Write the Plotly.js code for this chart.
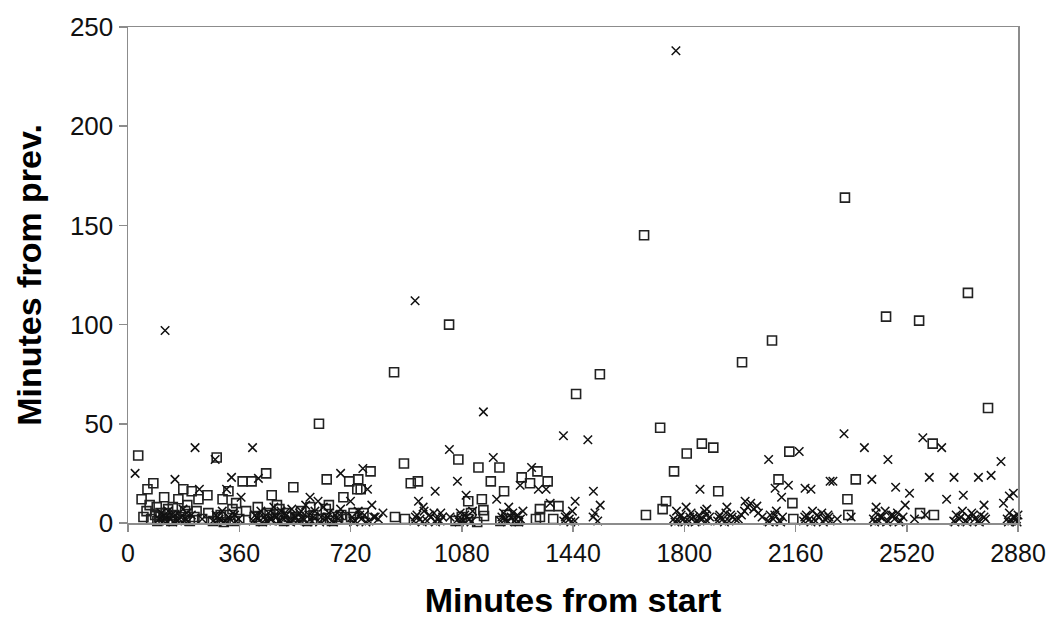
<!DOCTYPE html>
<html>
<head>
<meta charset="utf-8">
<script src="https://cdn.plot.ly/plotly-3.0.1.min.js"></script>
<style>html,body{margin:0;padding:0;background:#fff;}#chart{width:1051px;height:628px;}</style>
</head>
<body>
<div id="chart"></div>
<script>
// Series 1: square markers (minutes from start, minutes from previous)
var sqX = [33,82,63,44,287,618,371,400,447,535,643,716,745,179,206,257,306,325,350,117,163,228,465,697,742,93,88,382,
  785,893,915,938,861,1039,1069,1134,1202,1174,1145,1217,1101,1150,1152,1325,1274,1301,1358,1333,1364,1393,1333,1376,864,896,762,753,
  1450,1527,1670,1722,1808,1857,1894,1767,1910,1741,1730,1676,2140,2105,2150,2153,1987,2084,2320,2453,2560,2718,2783,2604,2355,2328,2331,2563,2608,
  50,60,75,95,105,115,130,140,150,165,185,200,215,240,260,275,290,310,330,345,360,410,430,450,470,490,505,520,545,560,580,600,625,640,660,680,705,730,
  1060,1080,1100,1110,1205,1225,1240,1260,1130,1320,
  70,100,123,145,172,192,222,300,338,420,458,482,512,552,590,612,650,690,722];
var sqY = [34,20,17,12,33,50,21,21,25,18,22,21,22,17,16,14,12,16,10,13,12,12,14,13,17,8,4,6,
  26,30,20,21,76,100,32,28,28,21,12,16,11,6.5,3.5,26,23,20,21,7,8.5,8.5,3,2,3,2,5,17,
  65,75,145,48,35,40,38,26,16,11,7,4,36,22,10,2,81,92,164,104,102,116,58,40,22,12,4,5,4,
  3,6,2,1,5,2,7,1,4,2,6,1,3,2,5,1,3,0.5,4,1,2,3,1,5,2,7,1,3,2,6,1,4,2,7,1,3,2,5,
  1,3,2,5,1,4,2,1,0.5,2,
  9,3,5,8,3,9,6,4,7,8,4,9,5,3,8,2,9,4,3];

// Series 2: x markers
var crX = [23,120,282,217,403,152,335,422,688,231,319,366,589,
  929,1150,1409,1488,1040,1182,760,775,994,1066,1094,1193,1306,1269,1328,1353,1366,1447,1506,940,955,789,1042,720,
  1773,1528,1511,2073,2172,2094,2137,2115,2191,2210,2272,1873,1938,1997,2035,1851,
  2317,2383,2459,2572,2633,2825,2281,2407,2593,2673,2752,2793,2484,2529,2649,2703,2852,2865,2421,2515,2770,2833,
  100,108,115,122,130,138,145,152,160,170,178,185,195,205,
  240,275,285,295,305,315,325,340,350,358,
  405,412,420,430,440,448,455,465,472,480,488,495,505,512,520,530,540,548,555,565,575,585,595,605,615,625,632,640,650,660,670,680,688,
  725,735,745,755,765,780,795,810,825,
  925,935,945,958,968,980,990,1000,1010,1018,
  1068,1075,1085,1095,1105,1115,
  1206,1215,1222,1232,1240,1250,1260,1270,1278,
  1410,1418,1428,1438,1446,1505,1520,
  1766,1775,1782,1790,1798,1806,1815,1822,1830,1840,1848,1858,1866,1875,1882,
  1908,1915,1925,1935,1945,1955,1965,
  1975,1985,1995,2005,2015,2025,2040,2052,
  2070,2078,2088,2098,2108,2118,
  2186,2195,2205,2215,2225,2235,2245,2255,2265,2272,2295,2340,
  2412,2420,2430,2440,2450,2460,2470,2480,2490,2500,2508,2545,2580,
  2672,2680,2690,2700,2710,2720,2730,2740,2750,2760,2775,
  2845,2852,2860,2868,2875,2880,
  112,126,142,166,190,290,310,330,345,
  416,436,460,476,492,508,526,544,560,580,600,620,645,665,684,
  730,750,770,800,930,952,975,995,1012,1072,1090,1110,1210,1228,1245,1265,
  1415,1433,1770,1786,1802,1818,1835,1852,1870,1912,1930,1950,2075,2093,2112,
  2190,2210,2230,2250,2268,2416,2435,2455,2475,2495,2676,2695,2715,2735,2755,2770,2849,2864,2877];
var crY = [25,97,32,38,38,22,23,22.5,25,17,17,13,13,
  112,56,44,42,37,33,27.5,17,16,21,14,12,28,19,17,17,10,11,16,11,8,9,3,11,
  238,9,5,32,36,17.5,19,13,17.5,17,21,7,8,11,8.5,17,
  45,38,32,43,38,31,21,22,23,23,23,24,18,15,12,14,13.6,15,8,9,9,10,
  2,5,1,3,6,2,0.5,4,1,3,7,2,1,4,
  2,1,4,2,6,1,3,5,1,2,
  1,4,2,6,3,1,5,2,8,3,1,6,2,4,1,7,3,1,5,2,9,4,1,6,11,3,8,2,5,1,4,2,7,
  3,1,6,2,4,1,3,2,5,
  1,4,2,6,1,3,5,2,1,3,
  2,5,1,3,2,6,
  1,5,2,8,3,1,4,2,6,
  1,4,2,6,1,3,1,
  2,6,1,4,2,8,1,5,3,1,4,2,6,1,3,
  1,4,2,5,1,3,2,
  2,4,6,8,10,7,5,3,
  1,4,2,6,1,3,
  1,4,2,6,1,3,5,2,4,1,2,3,
  2,5,1,3,6,1,4,2,5,1,3,2,4,
  1,4,2,6,1,3,5,2,1,4,2,
  2,5,1,3,2,4,
  3,1,4,2,5,3,0.5,2,4,
  3,0.5,2,4,1,5,0.5,3,6,0.5,3,0.5,3,0.5,4,
  0.5,4,0.5,3,3,0.5,4,0.5,5,0.5,4,0.5,3,0.5,5,0.5,
  3,0.5,0.5,3,0.5,3,0.5,2,4,3,0.5,4,0.5,4,0.5,
  3,0.5,4,0.5,3,0.5,3,0.5,4,0.5,0.5,3,0.5,4,0.5,3,0.5,3,0.5];

var xTicks = [0,360,720,1080,1440,1800,2160,2520,2880];
var yTicks = [0,50,100,150,200,250];

var traces = [
  {x: sqX, y: sqY, type: 'scatter', mode: 'markers', cliponaxis: false, name: 'squares',
   marker: {symbol: 'square-open', size: 9, color: '#222', line: {width: 1.6, color: '#222'}}},
  {x: crX, y: crY, type: 'scatter', mode: 'markers', cliponaxis: false, name: 'crosses',
   marker: {symbol: 'x-thin-open', size: 8.5, color: '#111', line: {width: 1.5, color: '#111'}}}
];

var fontFam = 'Liberation Sans, Arial, sans-serif';
var layout = {
  width: 1051, height: 628,
  margin: {l: 128, r: 33, t: 27, b: 105},
  paper_bgcolor: '#fff', plot_bgcolor: '#fff',
  showlegend: false,
  font: {family: fontFam, color: '#111'},
  xaxis: {
    range: [0, 2880], tickvals: xTicks, ticktext: xTicks.map(String),
    showgrid: false, zeroline: false,
    showline: true, linecolor: '#8c8c8c', linewidth: 1.5, mirror: true,
    ticks: 'outside', ticklen: 7, tickcolor: '#8c8c8c', tickwidth: 1.5,
    tickfont: {size: 25, family: fontFam, color: '#111'},
    title: {text: 'Minutes from start', font: {size: 34, family: fontFam, color: '#000', weight: 'bold'}, standoff: 22},
    automargin: false, fixedrange: true
  },
  yaxis: {
    range: [0, 250], tickvals: yTicks, ticktext: yTicks.map(String),
    showgrid: false, zeroline: false,
    showline: true, linecolor: '#8c8c8c', linewidth: 1.5, mirror: true,
    ticks: 'outside', ticklen: 8, tickcolor: '#8c8c8c', tickwidth: 1.5,
    tickfont: {size: 26, family: fontFam, color: '#111'},
    title: {text: 'Minutes from prev.', font: {size: 34, family: fontFam, color: '#000', weight: 'bold'}, standoff: 18},
    automargin: false, fixedrange: true
  }
};

Plotly.newPlot('chart', traces, layout, {displayModeBar: false, staticPlot: true});
</script>
</body>
</html>
